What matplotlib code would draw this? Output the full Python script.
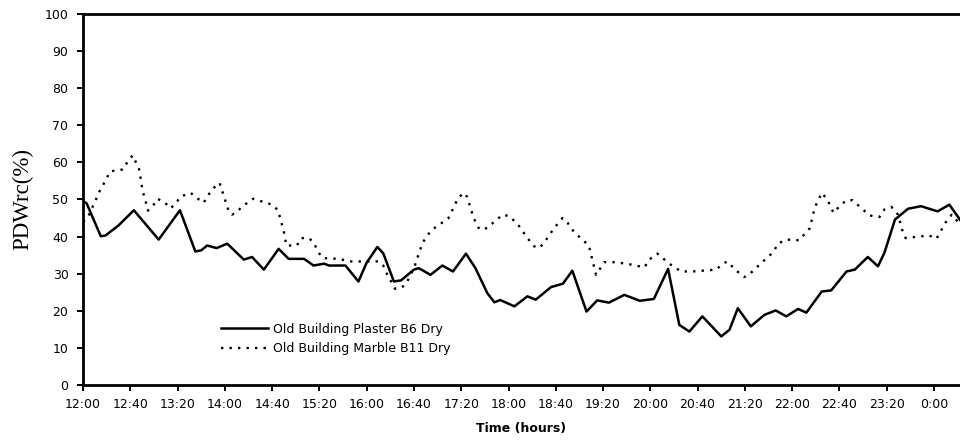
"""
PDWrc over time: old building plaster B6 vs marble B11 (dry).
"""
import matplotlib
matplotlib.use("Agg")
import matplotlib.pyplot as plt

# minutes after 12:00
plaster_min = [0, 3, 15, 19, 30, 43, 64, 82, 95, 100, 105, 113, 122, 136, 143, 153,
               165.5, 174, 187, 195, 204, 208, 222, 233, 240, 249, 254, 263, 269, 280,
               284, 294, 304, 313, 324, 332, 342, 348, 353, 365, 376, 383, 396, 406,
               414, 426, 435, 445, 458, 471, 483, 495, 504.5, 513, 524, 540, 547, 554,
               565, 576.5, 586, 595, 605, 612, 625, 633, 646, 653, 664, 672.6, 678, 687,
               698, 709, 723, 733, 743]
plaster_val = [49.5, 49, 40.1, 40.3, 43, 47.1, 39.2, 47.1, 36, 36.3, 37.6, 36.9, 38.1, 33.8,
               34.5, 31.1, 36.7, 34, 34, 32.2, 32.7, 32.2, 32.2, 27.9, 33, 37.2, 35.5, 27.9,
               28.2, 31.1, 31.5, 29.7, 32.2, 30.6, 35.4, 31.5, 24.8, 22.3, 22.9, 21.2, 23.9,
               23, 26.4, 27.3, 30.8, 19.8, 22.8, 22.2, 24.3, 22.7, 23.2, 31.3, 16.2, 14.4,
               18.5, 13.1, 14.9, 20.7, 15.8, 18.9, 20.1, 18.5, 20.5, 19.5, 25.2, 25.5, 30.6,
               31.1, 34.5, 32, 35.6, 44.6, 47.5, 48.2, 46.8, 48.6, 44.1]

marble_min = [0, 4.5, 14, 19.5, 23, 34, 37.5, 42, 47.5, 50.5, 52.5, 55, 59, 63, 69.5, 74,
              79, 82, 91, 95, 102, 109, 115.5, 123, 126, 130, 135, 144, 160, 165, 170, 172,
              181, 184.5, 191, 195, 198, 201, 203, 216, 227, 244, 250, 254, 257, 263, 264,
              271, 274, 280, 287, 290.7, 295.5, 309, 312, 317, 322, 325, 330, 333, 335.6,
              342, 345, 355, 361, 369, 376, 381.6, 386, 390, 398.6, 405.7, 410, 415.5, 428,
              434, 441, 451, 463, 475, 479, 486, 496, 506, 516, 536, 540, 545, 552.5, 559.6,
              565, 574, 584, 588, 595, 606, 610, 615, 618, 620, 625, 629.7, 635, 640, 646,
              651, 656, 665.5, 674, 678, 684, 689.6, 693, 696, 716, 722, 730, 735, 740]
marble_val = [44, 45.5, 52.2, 55.4, 57.6, 58.1, 60.1, 61.9, 58.1, 52.2, 50, 47, 48.2, 50.2,
              49.1, 47.6, 49.1, 50.7, 51.8, 50.7, 49.1, 52.7, 54.5, 47.1, 45.9, 46.6, 48.2,
              50.2, 48.6, 47.1, 41.2, 37.6, 37.6, 39.6, 39.6, 38.5, 36.5, 34.9, 34.2, 34,
              33.3, 33.3, 33.3, 32.2, 30, 26.6, 25.9, 26.6, 27.7, 31.5, 38.1, 40.1, 41.9,
              44.9, 46.8, 50.2, 51.8, 50.7, 45.5, 43.2, 41.9, 42.3, 43.2, 45.9, 45.5, 42.8,
              39.6, 37.4, 36.9, 38.3, 42.3, 45, 43.7, 41.2, 37.6, 29.7, 33.1, 33.1, 32.5,
              31.7, 33.8, 35.4, 32.7, 30.6, 30.6, 31.1, 32.4, 33.3, 30.9, 29.1, 30.2, 32.9,
              35.8, 38.1, 39.2, 39, 40.5, 42.3, 46.4, 48.4, 51.8, 50, 46.4, 48.2, 49.8, 49.8,
              48.4, 45.7, 45.3, 47.3, 48, 45.9, 41.9, 39.6, 40.3, 39.4, 43.9, 45.9, 44.1]

tick_min = list(range(0, 721, 40))
tick_labels = ["12:00", "12:40", "13:20", "14:00", "14:40", "15:20", "16:00", "16:40",
               "17:20", "18:00", "18:40", "19:20", "20:00", "20:40", "21:20", "22:00",
               "22:40", "23:20", "0:00"]

plt.rcParams["font.family"] = ["DejaVu Sans"]

fig = plt.figure(figsize=(9.6, 4.47), dpi=100)
ax = fig.add_axes([0.0865, 0.1387, 0.9135, 0.8300])

ax.plot(plaster_min, plaster_val, color="black", linewidth=1.8,
        label="Old Building Plaster B6 Dry")
ax.plot(marble_min, marble_val, color="black", linewidth=1.7, linestyle=(0, (1, 2.6)),
        label="Old Building Marble B11 Dry")

ax.set_xlim(0, 742)
ax.set_ylim(0, 100)
ax.set_yticks(range(0, 101, 10))
ax.set_xticks(tick_min)
ax.set_xticklabels(tick_labels)
ax.tick_params(axis="both", labelsize=9, length=4.5, width=1.4, direction="out")
ax.tick_params(axis="y", pad=6)
ax.tick_params(axis="x", pad=5)

ax.spines["right"].set_visible(False)
for side in ("left", "bottom", "top"):
    ax.spines[side].set_linewidth(2.0)

ax.set_ylabel("PDWrc(%)", fontsize=16.5, family="Liberation Serif", labelpad=8)
ax.set_xlabel("Time (hours)", fontsize=9, fontweight="bold", labelpad=8)

ax.legend(loc="center left", bbox_to_anchor=(0.145, 0.124), frameon=False,
          fontsize=9, handlelength=3.7, handletextpad=0.4, labelspacing=0.5)

fig.savefig("out.png", dpi=100)
